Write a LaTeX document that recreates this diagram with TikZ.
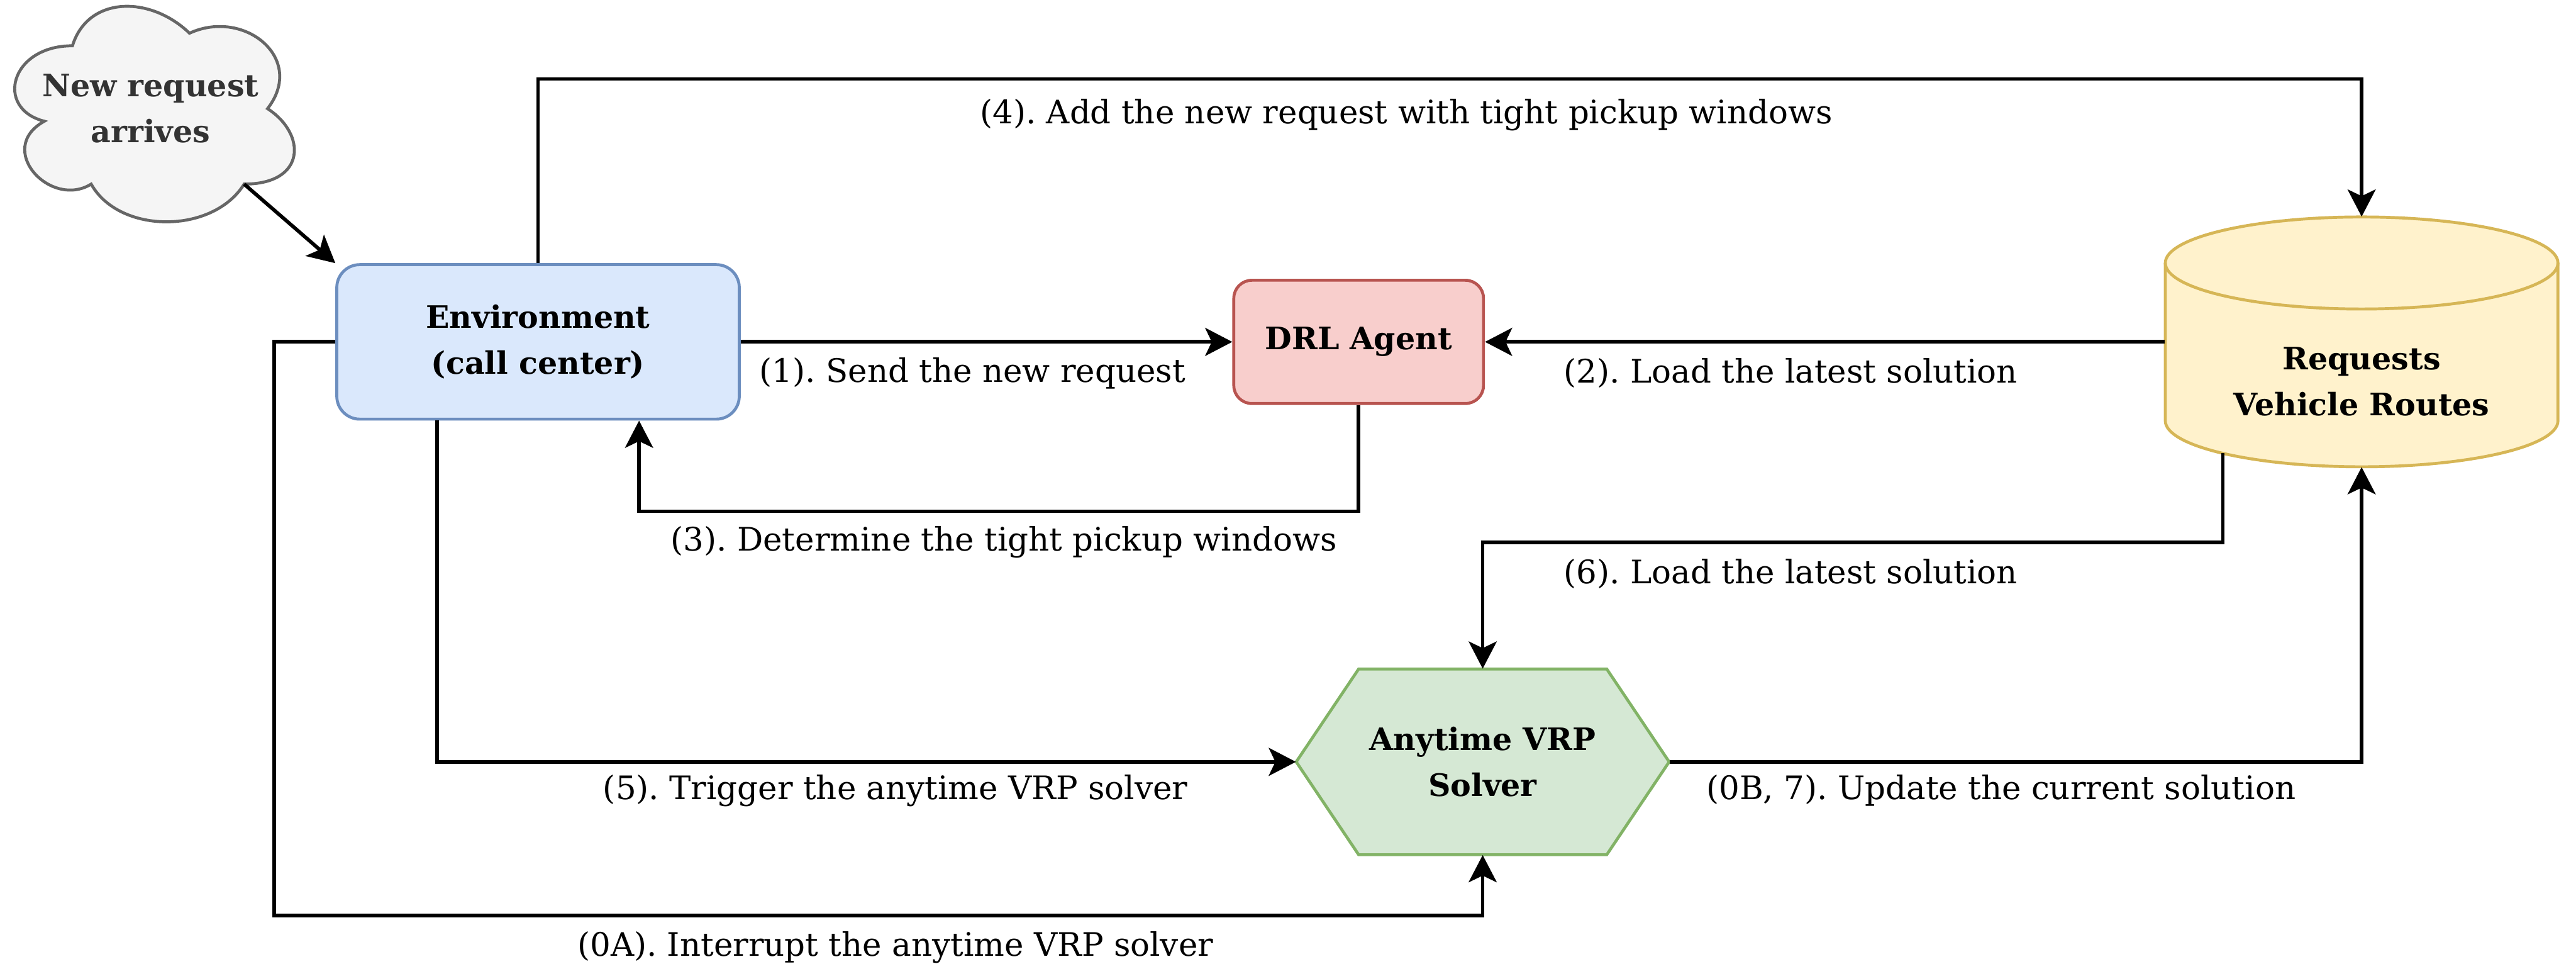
\documentclass[tikz,border=0pt]{standalone}
\usepackage{fontspec}
\setmainfont{DejaVu Serif}
\usetikzlibrary{arrows.meta}
\frenchspacing

\definecolor{cloudfill}{HTML}{F5F5F5}
\definecolor{cloudline}{HTML}{666666}
\definecolor{cloudtext}{HTML}{333333}
\definecolor{envfill}{HTML}{DAE8FC}
\definecolor{envline}{HTML}{6C8EBF}
\definecolor{agentfill}{HTML}{F8CECC}
\definecolor{agentline}{HTML}{B85450}
\definecolor{dbfill}{HTML}{FFF2CC}
\definecolor{dbline}{HTML}{D6B656}
\definecolor{solverfill}{HTML}{D5E8D4}
\definecolor{solverline}{HTML}{82B366}

\begin{document}
\begin{tikzpicture}[x=1pt, y=-1pt,
  box/.style={line width=1.8pt, inner sep=0pt, align=center,
    font=\fontsize{18.8}{28}\selectfont\bfseries},
  boxtext/.style={inner sep=0pt, align=center,
    font=\fontsize{18.8}{28}\selectfont\bfseries},
  outline/.style={line width=1.8pt, line join=miter},
  flow/.style={line width=2.2pt, -{Stealth[length=16.5pt, width=17pt, inset=4pt]}},
  lbl/.style={inner sep=0pt, font=\fontsize{19.7}{24}\selectfont}
]
\useasboundingbox (0,0) rectangle (1568,589.25);

% ---- cloud: "New request arrives"
\path[outline, fill=cloudfill, draw=cloudline]
  (44.1,27.85) .. controls (6.1,27.85) and (-3.4,66.1) .. (27.0,73.75)
  .. controls (-3.4,90.58) and (30.8,127.3) .. (55.5,112.0)
  .. controls (72.6,142.6) and (129.6,142.6) .. (148.6,112.0)
  .. controls (186.6,112.0) and (186.6,81.4) .. (162.85,66.1)
  .. controls (186.6,35.5) and (148.6,4.9) .. (115.35,20.2)
  .. controls (91.6,-2.75) and (53.6,-2.75) .. (44.1,27.85) -- cycle;
\node[boxtext, text=cloudtext] (cloud) at (91.6,66.1) {New request\\arrives};
\coordinate (cloudout) at (148.6,112.0);

% ---- environment
\node[box, rounded corners=14pt, draw=envline, fill=envfill,
      minimum width=245pt, minimum height=94pt] (env) at (327.5,208)
      {Environment\\(call center)};

% ---- DRL agent
\node[box, rounded corners=11pt, draw=agentline, fill=agentfill,
      minimum width=152pt, minimum height=75pt] (drl) at (827,208) {DRL Agent};

% ---- database cylinder
\node[inner sep=0pt, minimum width=239pt, minimum height=152pt] (db) at (1437.5,208) {};
\path[outline, fill=dbfill, draw=dbline]
  (1318,160) -- (1318,256)
  arc[start angle=180, end angle=0, x radius=119.5, y radius=28]
  -- (1557,160)
  arc[start angle=0, end angle=-180, x radius=119.5, y radius=28] -- cycle;
\draw[outline, draw=dbline]
  (1318,160) arc[start angle=180, end angle=0, x radius=119.5, y radius=28];
\node[boxtext] (dbtext) at (1437.5,232) {Requests\\Vehicle Routes};
\coordinate (dbout) at (1353,275.8);

% ---- anytime solver hexagon
\path[outline, fill=solverfill, draw=solverline]
  (789,463.5) -- (827,407) -- (978,407) -- (1016,463.5) -- (978,520) -- (827,520) -- cycle;
\node[boxtext, minimum width=227pt, minimum height=113pt] (solver) at (902.5,463.5)
  {Anytime VRP\\Solver};

% ---- connectors
\draw[flow] (cloudout) -- (env.north west);
\draw[flow] (env.north) |- (1000,48) -| (db.north);
\draw[flow] (env.east) -- (drl.west);
\draw[flow] (db.west) -- (drl.east);
\draw[flow] (drl.south) -- (827,311) -| ([xshift=61.5pt]env.south);
\draw[flow] ([xshift=-61.5pt]env.south) |- (solver.west);
\draw[flow] (dbout) -- (1353,330) -| (solver.north);
\draw[flow] (solver.east) -| (db.south);
\draw[flow] (env.west) -| (167,557) -| (solver.south);

% ---- step labels
\node[lbl] (l4)  at (856,70)    {(4). Add the new request with tight pickup windows};
\node[lbl] (l1)  at (592,227)   {(1). Send the new request};
\node[lbl] (l2)  at (1090,227)  {(2). Load the latest solution};
\node[lbl] (l3)  at (611,330)   {(3). Determine the tight pickup windows};
\node[lbl] (l6)  at (1090,349)  {(6). Load the latest solution};
\node[lbl] (l5)  at (545,481)   {(5). Trigger the anytime VRP solver};
\node[lbl] (l0b) at (1218,481)  {(0B, 7). Update the current solution};
\node[lbl] (l0a) at (545,576.5) {(0A). Interrupt the anytime VRP solver};
\end{tikzpicture}
\end{document}
